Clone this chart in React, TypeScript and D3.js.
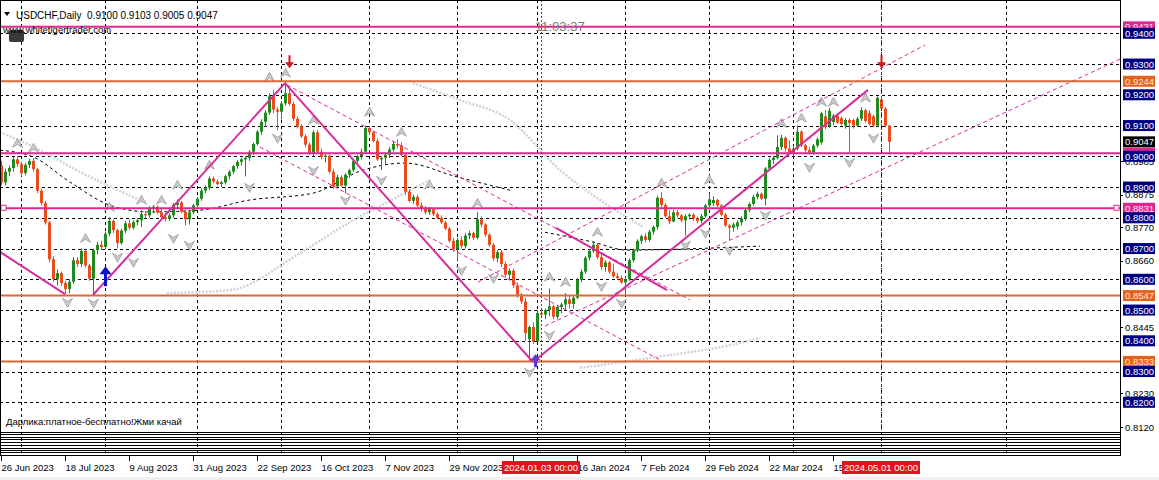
import React from "react";
import * as d3 from "d3";

const W = 1159;
const H = 480;

// ---- OHLC (daily bars, 26 Jun 2023 .. 3 May 2024) ----
const opens = [
  0.8970,0.8915,0.8950,0.8962,0.8990,0.8975,0.8945,0.8972,0.8985,0.8958,
  0.8888,0.8848,0.8785,0.8665,0.8600,0.8620,0.8588,0.8568,0.8592,0.8662,
  0.8650,0.8692,0.8645,0.8602,0.8695,0.8712,0.8705,0.8748,0.8790,0.8760,
  0.8718,0.8758,0.8782,0.8768,0.8786,0.8792,0.8812,0.8808,0.8830,0.8836,
  0.8818,0.8802,0.8796,0.8808,0.8842,0.8850,0.8820,0.8795,0.8818,0.8840,
  0.8862,0.8888,0.8898,0.8928,0.8918,0.8910,0.8915,0.8935,0.8950,0.8968,
  0.8982,0.8990,0.8995,0.9015,0.9040,0.9080,0.9112,0.9142,0.9195,0.9152,
  0.9145,0.9172,0.9205,0.9170,0.9122,0.9097,0.9065,0.9038,0.9010,0.9078,
  0.9015,0.8998,0.9002,0.8950,0.8902,0.8932,0.8905,0.8940,0.8955,0.8985,
  0.9000,0.9015,0.9092,0.9078,0.9050,0.8990,0.8995,0.9005,0.9022,0.9040,
  0.9035,0.9005,0.8885,0.8855,0.8868,0.8840,0.8830,0.8818,0.8828,0.8812,
  0.8800,0.8785,0.8765,0.8725,0.8698,0.8728,0.8708,0.8742,0.8750,0.8735,
  0.8795,0.8778,0.8745,0.8712,0.8668,0.8688,0.8650,0.8615,0.8628,0.8580,
  0.8550,0.8528,0.8405,0.8445,0.8398,0.8490,0.8485,0.8500,0.8512,0.8478,
  0.8510,0.8518,0.8535,0.8520,0.8540,0.8598,0.8625,0.8670,0.8692,0.8712,
  0.8672,0.8640,0.8655,0.8625,0.8610,0.8604,0.8590,0.8600,0.8662,0.8694,
  0.8725,0.8740,0.8728,0.8755,0.8770,0.8865,0.8842,0.8805,0.8788,0.8818,
  0.8808,0.8792,0.8805,0.8810,0.8798,0.8790,0.8805,0.8840,0.8848,0.8858,
  0.8840,0.8810,0.8775,0.8768,0.8772,0.8785,0.8798,0.8825,0.8845,0.8868,
  0.8878,0.8862,0.8960,0.8988,0.8995,0.9030,0.9060,0.9025,0.9012,0.9025,
  0.9080,0.9036,0.9020,0.9012,0.9035,0.9045,0.9130,0.9098,0.9112,0.9132,
  0.9124,0.9100,0.9118,0.9118,0.9100,0.9122,0.9150,0.9140,0.9130,0.9100,
  0.9185,0.9155,0.9100,
];
const highs = [
  0.8985,0.8960,0.8970,0.8998,0.9000,0.8980,0.8978,0.8992,0.8995,0.8962,
  0.8895,0.8855,0.8790,0.8675,0.8632,0.8625,0.8595,0.8600,0.8672,0.8672,
  0.8700,0.8700,0.8650,0.8700,0.8722,0.8725,0.8755,0.8802,0.8795,0.8765,
  0.8765,0.8790,0.8795,0.8792,0.8798,0.8825,0.8822,0.8838,0.8842,0.8840,
  0.8832,0.8815,0.8815,0.8848,0.8860,0.8855,0.8830,0.8825,0.8845,0.8868,
  0.8895,0.8905,0.8935,0.8935,0.8925,0.8920,0.8940,0.8955,0.8972,0.8988,
  0.8995,0.9000,0.9020,0.9045,0.9085,0.9120,0.9150,0.9205,0.9215,0.9160,
  0.9180,0.9244,0.9225,0.9178,0.9130,0.9105,0.9072,0.9045,0.9085,0.9085,
  0.9025,0.9010,0.9005,0.8960,0.8940,0.8938,0.8945,0.8960,0.8992,0.9005,
  0.9025,0.9100,0.9098,0.9082,0.9058,0.9000,0.9012,0.9030,0.9050,0.9055,
  0.9045,0.9012,0.8892,0.8875,0.8875,0.8850,0.8838,0.8835,0.8832,0.8818,
  0.8808,0.8790,0.8770,0.8735,0.8735,0.8740,0.8750,0.8758,0.8755,0.8818,
  0.8805,0.8782,0.8750,0.8718,0.8695,0.8695,0.8658,0.8635,0.8635,0.8588,
  0.8555,0.8540,0.8450,0.8460,0.8500,0.8505,0.8505,0.8570,0.8518,0.8515,
  0.8525,0.8555,0.8545,0.8545,0.8605,0.8632,0.8675,0.8698,0.8725,0.8718,
  0.8685,0.8662,0.8660,0.8650,0.8620,0.8612,0.8608,0.8668,0.8700,0.8730,
  0.8745,0.8750,0.8760,0.8775,0.8872,0.8883,0.8848,0.8825,0.8825,0.8825,
  0.8812,0.8812,0.8815,0.8815,0.8805,0.8812,0.8845,0.8880,0.8870,0.8862,
  0.8845,0.8815,0.8780,0.8785,0.8792,0.8805,0.8830,0.8850,0.8875,0.8885,
  0.8882,0.8965,0.8995,0.9002,0.9068,0.9070,0.9065,0.9052,0.9035,0.9100,
  0.9085,0.9040,0.9030,0.9040,0.9062,0.9145,0.9150,0.9158,0.9138,0.9138,
  0.9130,0.9125,0.9125,0.9122,0.9128,0.9160,0.9155,0.9150,0.9135,0.9195,
  0.9190,0.9160,0.9103,
];
const lows = [
  0.8905,0.8905,0.8935,0.8950,0.8965,0.8935,0.8938,0.8962,0.8950,0.8880,
  0.8840,0.8778,0.8655,0.8592,0.8580,0.8578,0.8552,0.8555,0.8585,0.8640,
  0.8640,0.8638,0.8595,0.8552,0.8680,0.8695,0.8700,0.8740,0.8750,0.8700,
  0.8712,0.8750,0.8760,0.8762,0.8775,0.8770,0.8798,0.8800,0.8815,0.8812,
  0.8795,0.8788,0.8790,0.8800,0.8828,0.8815,0.8775,0.8778,0.8812,0.8835,
  0.8855,0.8880,0.8890,0.8912,0.8905,0.8900,0.8908,0.8925,0.8942,0.8960,
  0.8970,0.8935,0.8985,0.9005,0.9035,0.9070,0.9095,0.9135,0.9140,0.9085,
  0.9120,0.9165,0.9165,0.9115,0.9090,0.9060,0.9030,0.9005,0.9000,0.9010,
  0.8990,0.8980,0.8945,0.8895,0.8895,0.8900,0.8880,0.8930,0.8950,0.8978,
  0.8990,0.9008,0.9070,0.9045,0.8985,0.8955,0.8975,0.8995,0.9015,0.9025,
  0.9000,0.8875,0.8850,0.8845,0.8835,0.8820,0.8812,0.8810,0.8805,0.8795,
  0.8780,0.8760,0.8720,0.8690,0.8662,0.8700,0.8700,0.8730,0.8728,0.8730,
  0.8770,0.8738,0.8705,0.8660,0.8655,0.8640,0.8605,0.8600,0.8572,0.8540,
  0.8520,0.8400,0.8333,0.8390,0.8395,0.8475,0.8470,0.8480,0.8470,0.8470,
  0.8490,0.8500,0.8505,0.8505,0.8535,0.8590,0.8618,0.8662,0.8685,0.8665,
  0.8630,0.8625,0.8618,0.8605,0.8598,0.8585,0.8548,0.8595,0.8655,0.8688,
  0.8715,0.8720,0.8722,0.8745,0.8762,0.8835,0.8800,0.8780,0.8785,0.8800,
  0.8785,0.8742,0.8795,0.8790,0.8782,0.8782,0.8800,0.8835,0.8838,0.8835,
  0.8805,0.8770,0.8728,0.8755,0.8762,0.8775,0.8790,0.8818,0.8840,0.8860,
  0.8858,0.8840,0.8952,0.8975,0.8990,0.9020,0.9015,0.9008,0.9000,0.9020,
  0.9030,0.9010,0.9005,0.9005,0.9028,0.9038,0.9088,0.9092,0.9100,0.9105,
  0.9100,0.9090,0.9013,0.9090,0.9095,0.9115,0.9110,0.9100,0.9095,0.9095,
  0.9150,0.9095,0.9005,
];
const closes = [
  0.8915,0.8950,0.8962,0.8990,0.8975,0.8945,0.8972,0.8985,0.8958,0.8888,
  0.8848,0.8785,0.8665,0.8600,0.8620,0.8588,0.8568,0.8592,0.8662,0.8650,
  0.8692,0.8645,0.8602,0.8695,0.8712,0.8705,0.8748,0.8790,0.8760,0.8718,
  0.8758,0.8782,0.8768,0.8786,0.8792,0.8812,0.8808,0.8830,0.8836,0.8818,
  0.8802,0.8796,0.8808,0.8842,0.8850,0.8820,0.8795,0.8818,0.8840,0.8862,
  0.8888,0.8898,0.8928,0.8918,0.8910,0.8915,0.8935,0.8950,0.8968,0.8982,
  0.8990,0.8995,0.9015,0.9040,0.9080,0.9112,0.9142,0.9195,0.9152,0.9145,
  0.9172,0.9205,0.9170,0.9122,0.9097,0.9065,0.9038,0.9010,0.9078,0.9015,
  0.8998,0.9002,0.8950,0.8902,0.8932,0.8905,0.8940,0.8955,0.8985,0.9000,
  0.9015,0.9092,0.9078,0.9050,0.8990,0.8995,0.9005,0.9022,0.9040,0.9035,
  0.9005,0.8885,0.8855,0.8868,0.8840,0.8830,0.8818,0.8828,0.8812,0.8800,
  0.8785,0.8765,0.8725,0.8698,0.8728,0.8708,0.8742,0.8750,0.8735,0.8795,
  0.8778,0.8745,0.8712,0.8668,0.8688,0.8650,0.8615,0.8628,0.8580,0.8550,
  0.8528,0.8425,0.8445,0.8398,0.8490,0.8485,0.8500,0.8512,0.8478,0.8510,
  0.8518,0.8535,0.8520,0.8540,0.8598,0.8625,0.8670,0.8692,0.8712,0.8672,
  0.8640,0.8655,0.8625,0.8610,0.8604,0.8590,0.8600,0.8662,0.8694,0.8725,
  0.8740,0.8728,0.8755,0.8770,0.8865,0.8842,0.8805,0.8788,0.8818,0.8808,
  0.8792,0.8805,0.8810,0.8798,0.8790,0.8805,0.8840,0.8860,0.8858,0.8840,
  0.8810,0.8775,0.8768,0.8778,0.8785,0.8798,0.8825,0.8845,0.8868,0.8878,
  0.8862,0.8960,0.8988,0.8995,0.9030,0.9060,0.9025,0.9012,0.9025,0.9080,
  0.9036,0.9020,0.9012,0.9035,0.9055,0.9140,0.9095,0.9148,0.9132,0.9110,
  0.9105,0.9118,0.9108,0.9100,0.9122,0.9150,0.9115,0.9105,0.9100,0.9190,
  0.9155,0.9100,0.9047,
];

// ---- time axis (label under the 2024.01.03 marker is fully hidden in the source) ----
const dateTickBars = [0, 16, 32, 48, 64, 80, 96, 112, 144, 160, 176, 192, 208];
const dateTickLabels = [
  "26 Jun 2023", "18 Jul 2023", "9 Aug 2023", "31 Aug 2023", "22 Sep 2023", "16 Oct 2023",
  "7 Nov 2023", "29 Nov 2023", "16 Jan 2024", "7 Feb 2024", "29 Feb 2024",
  "22 Mar 2024", "15 Apr 2024",
];
const hiddenTickBars = [128];
const monthGridBars = [5, 26, 49, 70, 92, 114, 134, 156, 177, 198, 220, 251.25];
const markerBars = [135, 220];
const markerLabels = ["2024.01.03 00:00", "2024.05.01 00:00"];

// ---- price axis ----
const gridPrices = [0.82, 0.83, 0.84, 0.85, 0.86, 0.87, 0.88, 0.89, 0.90, 0.91, 0.92, 0.93, 0.94];
const scalePrices = [0.8120, 0.8230, 0.8445, 0.8660, 0.8770, 0.8875, 0.8985];

// ---- horizontal levels ----
const magentaLevels = [0.9421, 0.9010, 0.8831];
const magentaLabels = ["0.9431", "0.9010", "0.8831"];
const orangeLevels = [0.9244, 0.8547, 0.8333];
const currentPrice = 0.9047;

// ---- zigzag trend lines (bar, price) ----
const trendFromBar = [-0.25, 23, 71, 133, 138.75];
const trendFromPrice = [0.8689, 0.8549, 0.9238, 0.8331, 0.8767];
const trendToBar = [16, 71, 133, 216.75, 166.5];
const trendToPrice = [0.8552, 0.9238, 0.8331, 0.9216, 0.8565];

// ---- channel dashed lines ----
const chanFromBar = [71.5, 64.75, 119.25, 136];
const chanFromPrice = [0.9232, 0.9030, 0.8591, 0.8448];
const chanToBar = [172.25, 164.75, 231, 279.75];
const chanToPrice = [0.8533, 0.8338, 0.9362, 0.9316];

// ---- moving-average-like curves ----
const maA = [[-0.25, 0.902], [8, 0.8998], [17.25, 0.8916], [27.25, 0.8841], [37.25, 0.8819], [49.75, 0.8825], [62.25, 0.8858], [78, 0.888], [90.5, 0.8955], [101, 0.8978], [114, 0.8933], [127.25, 0.889]];
const maB = [[136, 0.8753], [148, 0.8721], [156.5, 0.8695], [176.5, 0.8701], [189.75, 0.8708]];
const dotG1 = [[-0.25, 0.9079], [9.75, 0.902], [19.75, 0.8949], [34.75, 0.8858]];
const dotG2 = [[41.5, 0.8555], [57.25, 0.8565], [74.75, 0.8685], [87.25, 0.8786], [99, 0.8867], [107.25, 0.8923]];
const dotG3 = [[103, 0.9238], [114.75, 0.9183], [127.25, 0.9118], [139.75, 0.8955], [149.75, 0.8858], [160.5, 0.877]];
const dotG4 = [[144.75, 0.8312], [162.25, 0.8344], [182.25, 0.8386], [189.75, 0.8409]];

// ---- fractals ----
const upFractalBars = [4, 8, 21, 27, 35, 40, 44, 52, 67, 71, 78, 92, 100, 107, 119, 137, 141, 149, 165, 177, 195, 200, 205, 208, 216];
const upFractalPrices = [0.9042, 0.9026, 0.8733, 0.8834, 0.8857, 0.8857, 0.8906, 0.8971, 0.9257, 0.927, 0.9117, 0.9143, 0.9078, 0.8906, 0.8847, 0.8607, 0.859, 0.8753, 0.8912, 0.8922, 0.9107, 0.9124, 0.9176, 0.9176, 0.9189];
const downFractalBars = [16.5, 23, 29, 33, 43, 47, 62, 69, 78, 86, 95, 115, 123, 132, 137, 150, 155, 171, 176, 182, 191, 202, 212, 218];
const downFractalPrices = [0.8525, 0.8522, 0.8672, 0.8655, 0.8733, 0.8711, 0.8899, 0.9059, 0.8954, 0.8857, 0.8922, 0.8629, 0.8603, 0.8298, 0.8418, 0.8577, 0.8522, 0.8711, 0.875, 0.8694, 0.8808, 0.8964, 0.898, 0.9059];

// ---- signal arrows ----
const sellBars = [72, 220];
const sellPrices = [0.9306, 0.9306];
const buyBars = [26];
const buyPrices = [0.861];
const buy2Bars = [133.5];
const buy2Prices = [0.8337];

const FONT = "'Liberation Sans', Arial, Helvetica, sans-serif";
const MAGENTA = "#e3268f";
const TREND = "#d62d9a";
const ORANGE = "#d86a34";
const BULL = "#1f8a1f";
const BEAR = "#ee4a1c";

export default function App() {
  const x = d3.scaleLinear().domain([0, 222]).range([1, 889]);
  const y = d3.scaleLinear().domain([0.82, 0.94]).range([402.3, 33.3]);
  const plotR = 1120;
  const plotB = 430;

  const line = d3
    .line<number[]>()
    .x((d) => x(d[0]))
    .y((d) => y(d[1]))
    .curve(d3.curveMonotoneX);

  const upPath = (cx: number, cy: number) =>
    `M${cx},${cy - 5} L${cx + 5},${cy + 4} L${cx},${cy + 1} L${cx - 5},${cy + 4} Z`;
  const downPath = (cx: number, cy: number) =>
    `M${cx},${cy + 5} L${cx + 5},${cy - 4} L${cx},${cy - 1} L${cx - 5},${cy - 4} Z`;

  const axisLabel = (p: number, text: string, bg: string | null, fg: string, key: string) => {
    const yy = y(p);
    return (
      <g key={key}>
        {bg ? (
          <rect x={1123} y={yy - 5.5} width={32} height={11} fill={bg} />
        ) : (
          <line x1={plotR} x2={plotR + 3} y1={Math.round(yy) + 0.5} y2={Math.round(yy) + 0.5} stroke="#000" />
        )}
        <text x={1125} y={yy + 3.6} fontSize={9.5} fill={fg}>
          {text}
        </text>
      </g>
    );
  };

  return (
    <svg
      width={W}
      height={H}
      style={{ position: "absolute", left: 0, top: 0, background: "#fff" }}
      fontFamily={FONT}
    >
      <defs>
        <clipPath id="plot">
          <rect x={0} y={0} width={plotR} height={plotB} />
        </clipPath>
      </defs>
      <rect x={0} y={0} width={W} height={H} fill="#fff" />
      <rect x={0} y={477} width={W} height={3} fill="#f0f0f0" />

      {/* grid */}
      <g stroke="#000" strokeWidth={1} strokeDasharray="3,3">
        {gridPrices.map((p) => (
          <line key={"gh" + p} x1={0} x2={plotR} y1={Math.round(y(p)) + 0.5} y2={Math.round(y(p)) + 0.5} />
        ))}
        {monthGridBars.map((b) => (
          <line key={"gv" + b} x1={Math.round(x(b)) + 0.5} x2={Math.round(x(b)) + 0.5} y1={0} y2={455} />
        ))}
      </g>

      <g clipPath="url(#plot)">
        {/* MA curves */}
        <path d={line(maA) || ""} fill="none" stroke="#000" strokeWidth={1} strokeDasharray="3,3" />
        <path d={line(maB) || ""} fill="none" stroke="#000" strokeWidth={1} strokeDasharray="3,3" />
        {[dotG1, dotG2, dotG3, dotG4].map((g, k) => (
          <path key={"g" + k} d={line(g) || ""} fill="none" stroke="#cfd2de" strokeWidth={2.5} strokeDasharray="2,1.5" />
        ))}

        {/* fractals */}
        {upFractalBars.map((b, k) => (
          <path key={"uf" + k} d={upPath(x(b) + 0.5, y(upFractalPrices[k]))} fill="#cacaca" stroke="#9c9c9c" strokeWidth={0.8} />
        ))}
        {downFractalBars.map((b, k) => (
          <path key={"df" + k} d={downPath(x(b) + 0.5, y(downFractalPrices[k]))} fill="#cacaca" stroke="#9c9c9c" strokeWidth={0.8} />
        ))}

        {/* candles */}
        {closes.map((c, i) => {
          const o = opens[i];
          const hi = Math.max(highs[i], o, c);
          const lo = Math.min(lows[i], o, c);
          const cx = Math.round(x(i));
          const col = c >= o ? BULL : BEAR;
          const top = y(Math.max(o, c));
          const h = Math.max(1, Math.abs(y(o) - y(c)));
          return (
            <g key={"c" + i}>
              <line x1={cx + 0.5} x2={cx + 0.5} y1={y(hi)} y2={y(lo)} stroke={col} strokeWidth={1} />
              <rect x={cx - 1} y={top} width={3} height={h} fill={col} />
            </g>
          );
        })}

        {/* channel dashed lines */}
        {chanFromBar.map((b, k) => (
          <line
            key={"ch" + k}
            x1={x(b)}
            y1={y(chanFromPrice[k])}
            x2={x(chanToBar[k])}
            y2={y(chanToPrice[k])}
            stroke={TREND}
            strokeWidth={1}
            strokeDasharray="4,3"
          />
        ))}

        {/* horizontal levels */}
        {orangeLevels.map((p) => (
          <line key={"ol" + p} x1={0} x2={plotR} y1={y(p)} y2={y(p)} stroke={ORANGE} strokeWidth={2} />
        ))}
        {magentaLevels.map((p) => (
          <line key={"ml" + p} x1={0} x2={plotR} y1={y(p)} y2={y(p)} stroke={MAGENTA} strokeWidth={2} />
        ))}
        <rect x={1} y={y(0.8831) - 3} width={5} height={5} fill="#fff" stroke={MAGENTA} strokeWidth={1} />
        <rect x={1114} y={y(0.8831) - 3} width={5} height={5} fill="#fff" stroke={MAGENTA} strokeWidth={1} />

        {/* zigzag trend lines */}
        {trendFromBar.map((b, k) => (
          <line
            key={"tl" + k}
            x1={x(b)}
            y1={y(trendFromPrice[k])}
            x2={x(trendToBar[k])}
            y2={y(trendToPrice[k])}
            stroke={TREND}
            strokeWidth={2}
          />
        ))}

        {/* vertical markers */}
        {markerBars.map((b) => (
          <line key={"vm" + b} x1={Math.round(x(b)) + 0.5} x2={Math.round(x(b)) + 0.5} y1={0} y2={plotB} stroke="#c8102e" strokeWidth={1} strokeDasharray="2,2" />
        ))}

        {/* signal arrows */}
        {sellBars.map((b, k) => {
          const cx = x(b) + 0.5;
          const cy = y(sellPrices[k]);
          return (
            <g key={"sa" + k}>
              <line x1={cx} x2={cx} y1={cy - 7} y2={cy + 2} stroke="#d8151b" strokeWidth={2} />
              <path d={`M${cx - 4.5},${cy} L${cx + 4.5},${cy} L${cx},${cy + 6} Z`} fill="#d8151b" />
            </g>
          );
        })}
        {buyBars.map((b, k) => {
          const cx = x(b) + 0.5;
          const cy = y(buyPrices[k]);
          return (
            <g key={"ba" + k}>
              <line x1={cx} x2={cx} y1={cy - 4} y2={cy + 10} stroke="#0a14c8" strokeWidth={3} />
              <path d={`M${cx - 6},${cy - 2} L${cx + 6},${cy - 2} L${cx},${cy - 10} Z`} fill="#0a14c8" />
            </g>
          );
        })}
        {buy2Bars.map((b, k) => {
          const cx = x(b) + 0.5;
          const cy = y(buy2Prices[k]);
          return (
            <g key={"bb" + k}>
              <line x1={cx} x2={cx} y1={cy - 2} y2={cy + 7} stroke="#5b3bd0" strokeWidth={3} />
              <path d={`M${cx - 5},${cy} L${cx + 5},${cy} L${cx},${cy - 6} Z`} fill="#5b3bd0" />
            </g>
          );
        })}
      </g>

      {/* header & texts */}
      <path d="M4,12 L10,12 L7,16 Z" fill="#000" />
      <text x={16} y={19} fontSize={10} fill="#000" style={{ whiteSpace: "pre" }}>
        {"USDCHF,Daily  0.9100 0.9103 0.9005 0.9047"}
      </text>
      <rect x={9} y={30} width={15} height={12} rx={2} fill="#3a3a3a" />
      <text x={3} y={33} fontSize={9.5} fill="#000">
        www.whitetigertrader.com
      </text>
      <text x={535} y={31} fontSize={13} fill="#7a7a7a">
        11:03:37
      </text>
      <text x={6} y={425} fontSize={9.5} fill="#000">
        Дарлика:платное-бесплатно!Жми качай
      </text>

      {/* sub-windows */}
      <g stroke="#000" strokeWidth={1}>
        {[432, 434, 437, 439, 442, 445, 448, 450, 452, 455].map((yy) => (
          <line key={"sw" + yy} x1={0} x2={plotR} y1={yy + 0.5} y2={yy + 0.5} />
        ))}
        <line x1={0.5} x2={0.5} y1={0} y2={455} />
        <line x1={plotR + 0.5} x2={plotR + 0.5} y1={0} y2={456} />
        <line x1={0} x2={plotR} y1={0.5} y2={0.5} />
      </g>

      {/* time axis */}
      {hiddenTickBars.map((b) => (
        <line key={"ht" + b} x1={Math.round(x(b)) + 0.5} x2={Math.round(x(b)) + 0.5} y1={455} y2={461} stroke="#000" />
      ))}
      {dateTickBars.map((b, k) => {
        const cx = Math.round(x(b)) + 0.5;
        return (
          <g key={"dt" + k}>
            <line x1={cx} x2={cx} y1={455} y2={461} stroke="#000" />
            <text x={cx} y={471} fontSize={9.5} fill="#000">
              {dateTickLabels[k]}
            </text>
          </g>
        );
      })}
      {markerBars.map((b, k) => (
        <g key={"mk" + k}>
          <rect x={x(b) - 39} y={461} width={78} height={13} fill="#e0141c" />
          <text x={x(b)} y={471} fontSize={9.5} fill="#fff" textAnchor="middle">
            {markerLabels[k]}
          </text>
        </g>
      ))}

      {/* price axis */}
      {scalePrices.map((p) => axisLabel(p, p.toFixed(4), null, "#000", "sp" + p))}
      {magentaLevels.map((p, k) => axisLabel(p, magentaLabels[k], "#e3268f", "#ffe6f2", "mp" + p))}
      {orangeLevels.map((p) => axisLabel(p, p.toFixed(4), "#e4621c", "#ffe9d6", "op" + p))}
      {gridPrices.map((p) => axisLabel(p, p.toFixed(4), "#000080", "#fff", "gp" + p))}
      {axisLabel(currentPrice, currentPrice.toFixed(4), "#000", "#fff", "cur")}
    </svg>
  );
}
